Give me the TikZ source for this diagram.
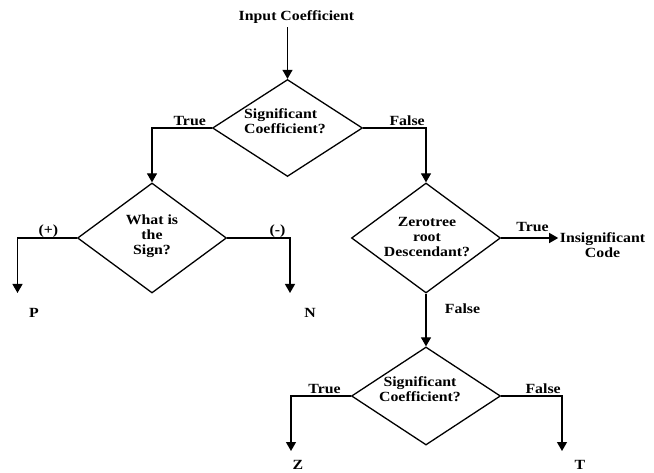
\documentclass[tikz,border=0pt]{standalone}
\usepackage{fontspec}
\setmainfont[FakeStretch=1.13]{Liberation Serif}
\usetikzlibrary{arrows.meta, shapes.geometric, positioning, calc}

\begin{document}
\begin{tikzpicture}[x=1pt, y=1pt, ->, >={Triangle[width=10pt,length=9pt]}, line width=1.3pt, node distance=20pt, on grid,
        every node/.style={font=\fontsize{14}{15}\selectfont\bfseries},
        decision/.style={diamond, draw, inner sep=0pt, minimum width=149pt, minimum height=110pt},
        qtext/.style={align=center, inner sep=0pt},
        lbl/.style={above, inner sep=2pt} ]

                                \useasboundingbox (0,0) rectangle (654,472);

                                \node (input) at (296.5,455) {Input Coefficient};
                                \node (d1) [decision, minimum width=150pt, minimum height=97pt, below left=111pt and 9pt of input] {};
                                \node (d2) [decision, below left=110pt and 135.5pt of d1] {};
                                \node (d3) [decision, below right=110pt and 138.5pt of d1] {};
                                \node (d4) [decision, minimum height=98pt, below=158pt of d3] {};

                                \node (q1) [qtext, align=left] at ($(d1)+(-2.5,7)$) {Significant\\Coefficient?};
                                \node (q2) [qtext] at ($(d2)+(0,2)$) {What is\\the\\Sign?};
                                \node (q3) [qtext] at ($(d3)+(1,1)$) {Zerotree\\root\\Descendant?};
                                \node (q4) [qtext] at ($(d4)+(-6,7)$) {Significant\\Coefficient?};

                                \node (insig) [align=center, inner sep=1pt] at (602.5,226.5) {Insignificant\\Code};

                                \coordinate (pend) at (17.5,179);
                                \coordinate (nend) at (290,179);
                                \coordinate (zend) at (291,21);
                                \coordinate (tend) at (562,21);

                                \node (p) at (34,159) {P};
                                \node (n) at (310,159) {N};
                                \node (z) at (298,7) {Z};
                                \node (t) at (580,7) {T};

                                \draw (input.south -| d1) to (d1);
                                \draw (d1.west) -| node [lbl, pos=0.185] {True} (d2.north);
                                \draw (d1.east) -| node [lbl, pos=0.35] {False} (d3.north);
                                \draw (d2.west) -| node [lbl, pos=0.24, inner sep=0pt] {(+)} (pend);
                                \draw (d2.east) -| node [lbl, pos=0.4, inner sep=0pt] {(-)} (nend);
                                \draw (d3.east) to node [lbl, pos=0.55, inner sep=6pt] {True} (d3.east -| insig.west);
                                \draw (d3) to node [right=15pt, pos=0.29] {False} (d4);
                                \draw (d4.west) -| node [lbl, pos=0.22] {True} (zend);
                                \draw (d4.east) -| node [lbl, pos=0.345] {False} (tend);
                        \end{tikzpicture}
\end{document}
